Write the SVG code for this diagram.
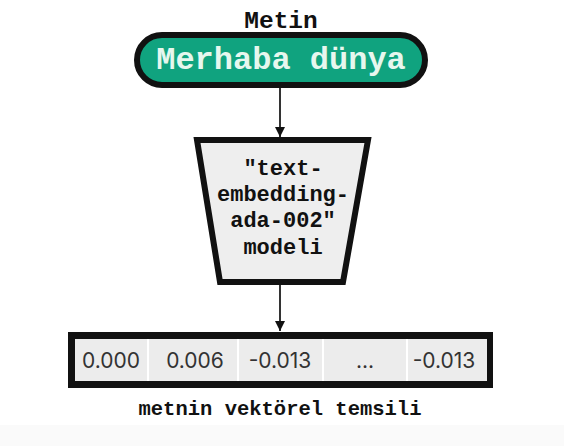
<svg xmlns="http://www.w3.org/2000/svg" width="564" height="446" viewBox="0 0 564 446">
<defs>
<style>
.mono{font-family:"Liberation Mono","Courier New",monospace;font-weight:bold;text-anchor:middle;fill:#111}
.num{font-family:Inter,"Liberation Sans",sans-serif;font-size:21px;fill:#333;text-anchor:middle}
.cell{fill:#ececec}
.conn{stroke:#333;stroke-width:2;fill:none}
</style>
<marker id="ah" viewBox="0 0 10 10" refX="10" refY="5" markerWidth="5" markerHeight="5" markerUnits="strokeWidth" orient="auto">
<path d="M0,0 L10,5 L0,10 z" fill="#111"/>
</marker>
</defs>
<rect x="0" y="0" width="564" height="446" fill="#ffffff"/>
<rect x="0" y="425" width="564" height="21" fill="#fafafa"/>
<g id="connectors">
<line class="conn" x1="280" y1="88" x2="280" y2="137" marker-end="url(#ah)"/>
<line class="conn" x1="280" y1="285" x2="280" y2="331" marker-end="url(#ah)"/>
</g>
<g id="input">
<text class="mono" x="281" y="28" font-size="24.5">Metin</text>
<rect x="137" y="35" width="288" height="50" rx="25" fill="#10a37f" stroke="#111" stroke-width="6"/>
<text class="mono" x="281" y="69" font-size="32" style="fill:#e6f7ee">Merhaba dünya</text>
</g>
<g id="model">
<polygon points="197,140 368,140 343,282 220,282" fill="#eeeeee" stroke="#111" stroke-width="6" stroke-linejoin="miter"/>
<text class="mono" font-size="22"><tspan x="283" y="175">"text-</tspan><tspan x="283" y="201">embedding-</tspan><tspan x="283" y="227">ada-002"</tspan><tspan x="283" y="254">modeli</tspan></text>
</g>
<g id="vector">
<rect x="68" y="332" width="425" height="56" fill="#111"/>
<rect x="75" y="339" width="412" height="42" fill="#ffffff"/>
<rect class="cell" x="75" y="339" width="72" height="42"/>
<rect class="cell" x="149" y="339" width="88" height="42"/>
<rect class="cell" x="239" y="339" width="83" height="42"/>
<rect class="cell" x="324" y="339" width="82" height="42"/>
<rect class="cell" x="408" y="339" width="79" height="42"/>
<text class="num" x="111" y="368">0.000</text>
<text class="num" x="195" y="368">0.006</text>
<text class="num" x="280" y="368">-0.013</text>
<text class="num" x="365" y="368">...</text>
<text class="num" x="444" y="368">-0.013</text>
<text class="mono" x="280" y="415" font-size="20.5">metnin vektörel temsili</text>
</g>
</svg>
